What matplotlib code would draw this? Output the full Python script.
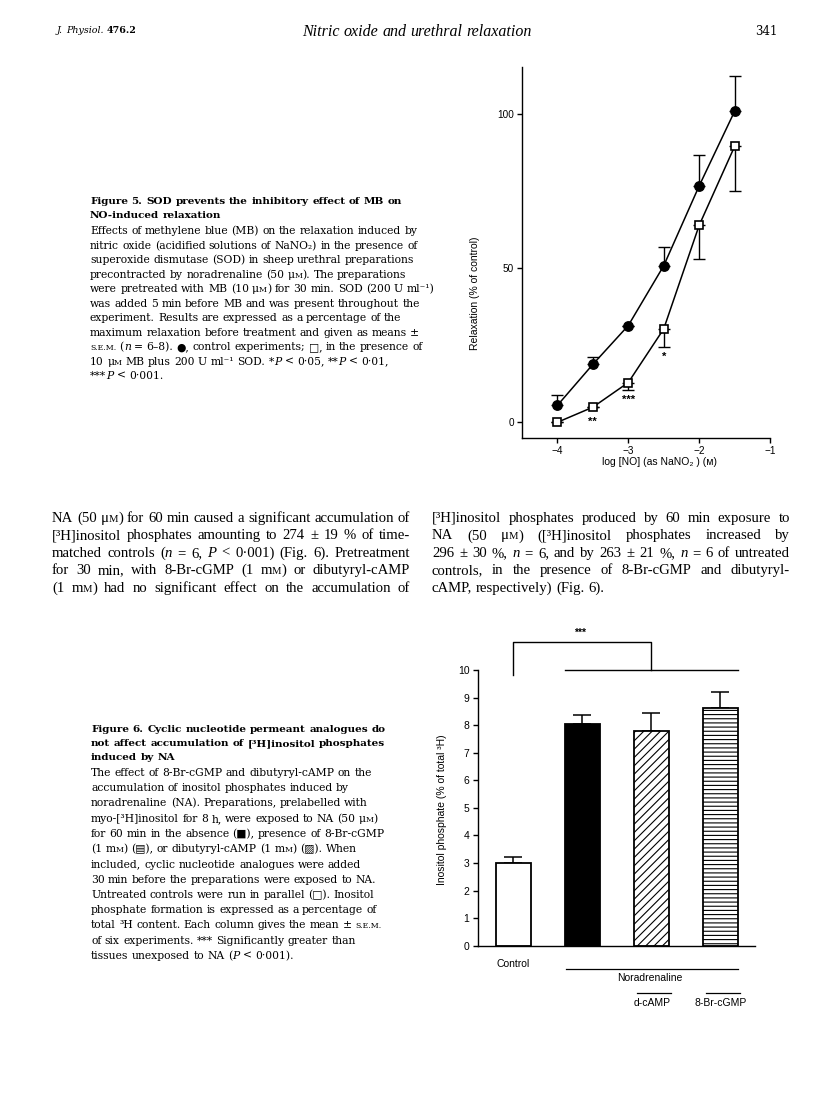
import matplotlib
matplotlib.use('Agg')
import matplotlib.pyplot as plt

# ---------------- data ----------------
# Figure 5: relaxation vs log [NO]
log_no = [-4.0, -3.5, -3.0, -2.5, -2.0, -1.5]
control_mean = [5.5, 18.8, 31.4, 50.8, 76.7, 100.9]
control_sem = [3.2, 2.3, 0.0, 6.0, 9.9, 11.5]
mb_sod_mean = [0.0, 4.9, 12.9, 30.3, 63.9, 89.5]
mb_sod_sem = [0.0, 0.0, 2.4, 5.9, 11.0, 14.3]
mb_sod_sig = ['', '**', '***', '*', '', '']
top_xticks = [-4, -3, -2, -1]
top_yticks = [0, 50, 100]

# Figure 6: inositol phosphate accumulation
bar_names = ['Control', 'Noradrenaline', 'Noradrenaline + d-cAMP', 'Noradrenaline + 8-Br-cGMP']
bar_means = [3.0, 8.05, 7.78, 8.62]
bar_sems = [0.2, 0.31, 0.65, 0.57]
bar_fills = ['white', 'black', 'white', 'white']
bar_hatches = ['', '', '////', '----']
bottom_yticks = list(range(0, 11))

# ---------------- text ----------------
caption5_bold = ["Figure 5. SOD prevents the inhibitory effect of MB on",
                 "NO-induced relaxation"]
caption5_body = [
    "Effects of methylene blue (MB) on the relaxation induced by",
    "nitric oxide (acidified solutions of NaNO₂) in the presence of",
    "superoxide dismutase (SOD) in sheep urethral preparations",
    "precontracted by noradrenaline (50 μ|^m|). The preparations",
    "were pretreated with MB (10 μ|^m|) for 30 min. SOD (200 U ml⁻¹)",
    "was added 5 min before MB and was present throughout the",
    "experiment. Results are expressed as a percentage of the",
    "maximum relaxation before treatment and given as means ±",
    "^s.e.m. (|~n| = 6–8). ●, control experiments; □, in the presence of",
    "10 μ|^m MB plus 200 U ml⁻¹ SOD. *|~P < 0·05, **|~P < 0·01,",
    "***|~P < 0·001.",
]
caption6_bold = ["Figure 6. Cyclic nucleotide permeant analogues do",
                 "not affect accumulation of [³H]inositol phosphates",
                 "induced by NA"]
caption6_body = [
    "The effect of 8-Br-cGMP and dibutyryl-cAMP on the",
    "accumulation of inositol phosphates induced by",
    "noradrenaline (NA). Preparations, prelabelled with",
    "myo-[³H]inositol for 8 h, were exposed to NA (50 μ|^m|)",
    "for 60 min in the absence (■), presence of 8-Br-cGMP",
    "(1 m|^m|) (▤), or dibutyryl-cAMP (1 m|^m|) (▨). When",
    "included, cyclic nucleotide analogues were added",
    "30 min before the preparations were exposed to NA.",
    "Untreated controls were run in parallel (□). Inositol",
    "phosphate formation is expressed as a percentage of",
    "total ³H content. Each column gives the mean ± ^s.e.m.",
    "of six experiments. *** Significantly greater than",
    "tissues unexposed to NA (|~P < 0·001).",
]
body_left = [
    "NA (50 μ|^m|) for 60 min caused a significant accumulation of",
    "[³H]inositol phosphates amounting to 274 ± 19 % of time-",
    "matched controls (|~n = 6, ~P < 0·001) (Fig. 6). Pretreatment",
    "for 30 min, with 8-Br-cGMP (1 m|^m|) or dibutyryl-cAMP",
    "(1 m|^m|) had no significant effect on the accumulation of",
]
body_right = [
    "[³H]inositol phosphates produced by 60 min exposure to",
    "NA (50 μ|^m|) ([³H]inositol phosphates increased by",
    "296 ± 30 %, ~n = 6, and by 263 ± 21 %, ~n = 6 of untreated",
    "controls, in the presence of 8-Br-cGMP and dibutyryl-",
    "cAMP, respectively) (Fig. 6).",
]

CAP_FONT = ['DejaVu Serif', 'DejaVu Sans']
BODY_FONT = ['Liberation Serif', 'DejaVu Sans']
SANS = ['Liberation Sans', 'DejaVu Sans']

W, H = 816, 1105
plt.rcParams['hatch.linewidth'] = 0.8
fig = plt.figure(figsize=(W / 100, H / 100), dpi=100)
fig.patch.set_facecolor('white')
renderer = fig.canvas.get_renderer()


def fx(x):
    return x / W


def fy(y):
    return 1 - y / H


def parse_word(word):
    segs = []
    for part in word.split('|'):
        if part == '':
            continue
        style, weight, scale = 'normal', None, 1.0
        text = part
        if part.startswith('~'):
            style, text = 'italic', part[1:]
        elif part.startswith('^'):
            scale, text = 0.72, part[1:].upper()
        elif part.startswith('!'):
            weight, text = 'bold', part[1:]
        segs.append((text, style, weight, scale))
    return segs


def make_text(x, y, s, size, weight, style, family):
    return fig.text(fx(x), fy(y), s, fontsize=size, family=family,
                    weight=weight, style=style, ha='left', va='baseline')


_cache = {}


def seg_width(s, size, weight, style, family):
    key = (s, round(size, 4), weight, style, tuple(family))
    if key not in _cache:
        t = make_text(0, 0, s, size, weight, style, family)
        _cache[key] = t.get_window_extent(renderer).width
        t.remove()
    return _cache[key]


def space_width(size, weight, family):
    return seg_width('a a', size, weight, 'normal', family) - seg_width('aa', size, weight, 'normal', family)


def build_runs(line):
    """Merge consecutive words/segments of the same style into runs.
    Each run: [text, style, weight, scale, space_before]"""
    runs = []
    for wi, word in enumerate(line.split(' ')):
        for si, (text, style, wgt, scale) in enumerate(parse_word(word)):
            boundary = (si == 0 and wi > 0)
            key = (style, wgt, scale)
            if runs and (runs[-1][1], runs[-1][2], runs[-1][3]) == key:
                runs[-1][0] += (' ' if boundary else '') + text
            else:
                runs.append([text, style, wgt, scale, boundary])
    return runs


def draw_ragged(line, x0, y, size, weight='normal', family=CAP_FONT):
    sp = space_width(size, weight, family)
    x = x0
    for text, style, wgt, scale, boundary in build_runs(line):
        if boundary:
            x += sp
        fs, fw = size * scale, (wgt or weight)
        words = text.split(' ')
        for i, w in enumerate(words):
            off = 0.0
            if i > 0:
                pre = ' '.join(words[:i + 1])
                off = seg_width(pre, fs, fw, style, family) - seg_width(w, fs, fw, style, family)
            make_text(x + off, y, w, fs, fw, style, family)
        x += seg_width(text, fs, fw, style, family)


def natural_width(line, size, weight, family):
    sp = space_width(size, weight, family)
    w = 0.0
    for text, style, wgt, scale, boundary in build_runs(line):
        w += (sp if boundary else 0.0) + seg_width(text, size * scale, wgt or weight, style, family)
    return w


def fit_size(line, target, weight, family):
    return 10.0 * target / natural_width(line, 10.0, weight, family)


def draw_justified(line, x0, y, size, width, family=BODY_FONT, weight='normal'):
    words = [parse_word(w) for w in line.split(' ')]
    meas = [[seg_width(t, size * sc, wg or weight, st, family) for t, st, wg, sc in segs]
            for segs in words]
    totals = [sum(m) for m in meas]
    sp = (width - sum(totals)) / max(len(words) - 1, 1)
    x = x0
    for segs, ws, tot in zip(words, meas, totals):
        xx = x
        for (text, style, wgt, scale), w in zip(segs, ws):
            make_text(xx, y, text, size * scale, wgt or weight, style, family)
            xx += w
        x += tot + sp


# ---- header ----
draw_ragged("~J. ~Physiol. !476.2", 57, 33, 6.8, family=CAP_FONT)
draw_ragged("~Nitric ~oxide ~and ~urethral ~relaxation", 302, 36, 11.5, family=BODY_FONT)
fig.text(fx(777), fy(35), "341", fontsize=8.5, family=CAP_FONT, ha='right', va='baseline')

# ---- caption 5 ----
cap_size = fit_size(caption5_body[0], 330, 'normal', CAP_FONT)
cap_bold = fit_size(caption5_bold[0], 313, 'bold', CAP_FONT)
y = 204
for ln in caption5_bold:
    draw_ragged(ln, 90, y, cap_bold, weight='bold')
    y += 14.0
y = 234.5
for ln in caption5_body:
    draw_ragged(ln, 90, y, cap_size)
    y += 14.45

# ---- body text (justified columns) ----
body_size = 10.6
for i, ln in enumerate(body_left):
    draw_justified(ln, 52, 522 + 17.4 * i, body_size, 358)
for i, ln in enumerate(body_right):
    if i < len(body_right) - 1:
        draw_justified(ln, 432, 522 + 17.4 * i, body_size, 358)
    else:
        draw_ragged(ln, 432, 522 + 17.4 * i, body_size, family=BODY_FONT)

# ---- caption 6 ----
y = 731.5
for ln in caption6_bold:
    draw_ragged(ln, 91, y, cap_bold, weight='bold')
    y += 14.5
y = 776
for ln in caption6_body:
    draw_ragged(ln, 91, y, cap_size)
    y += 15.25

# ---------------- Figure 5 chart ----------------
ax1 = fig.add_axes([fx(522), fy(438), 248 / W, 371 / H])
zeros = [0] * len(log_no)
ax1.errorbar(log_no, control_mean, yerr=[zeros, control_sem], fmt='none',
             ecolor='k', elinewidth=1.0, capsize=4.5, capthick=1.0, zorder=1)
ax1.errorbar(log_no, mb_sod_mean, yerr=[mb_sod_sem, zeros], fmt='none',
             ecolor='k', elinewidth=1.0, capsize=4.5, capthick=1.0, zorder=1)
ax1.plot(log_no, control_mean, '-', color='k', lw=1.1, zorder=2)
ax1.plot(log_no, mb_sod_mean, '-', color='k', lw=1.1, zorder=2)
ax1.plot(log_no, control_mean, 'o', ms=6.8, mfc='k', mec='k', zorder=3)
ax1.plot(log_no, mb_sod_mean, 's', ms=6.0, mfc='white', mec='k', mew=1.2, zorder=3)
for xv, m, s, lab in zip(log_no, mb_sod_mean, mb_sod_sem, mb_sod_sig):
    if lab:
        off = 5.0 + (4.5 if s == 0 else 0.0)
        ax1.annotate(lab, (xv, m - s), xytext=(0, -off * 0.72), textcoords='offset points',
                     ha='center', va='top', fontsize=8, family=SANS, fontweight='bold')
ax1.set_xlim(-4.5, -1)
ax1.set_ylim(-5.1, 115.3)
ax1.set_xticks(top_xticks)
ax1.set_yticks(top_yticks)
ax1.set_xticklabels(['−4', '−3', '−2', '−1'])
for sp_name in ['top', 'right']:
    ax1.spines[sp_name].set_visible(False)
for sp_name in ['left', 'bottom']:
    ax1.spines[sp_name].set_linewidth(1.0)
ax1.tick_params(direction='out', length=3.8, width=1.0, labelsize=7.2, pad=1.8)
for lbl in ax1.get_xticklabels() + ax1.get_yticklabels():
    lbl.set_family(SANS)
ax1.set_ylabel("Relaxation (% of control)", fontsize=7.5, family=SANS)
ax1.yaxis.set_label_coords(-0.169, (438 - 293) / 371)
ax1.set_xlabel("log [NO] (as NaNO₂ ) (ᴍ)", fontsize=7.5, family=SANS, va='center')
ax1.xaxis.set_label_coords((660 - 522) / 248, -(462 - 438) / 371)
ax1.patch.set_alpha(0)

# ---------------- Figure 6 chart ----------------
ax2 = fig.add_axes([fx(478.3), fy(945.7), 276.7 / W, 275.7 / H])
pos = list(range(len(bar_means)))
bw = 0.5
ax2.errorbar(pos, bar_means, yerr=[[0] * len(pos), bar_sems], fmt='none', ecolor='k',
             elinewidth=1.1, capsize=6.5, capthick=1.1, zorder=1)
bars = ax2.bar(pos, bar_means, width=bw, color=bar_fills, edgecolor='k', linewidth=1.3, zorder=2)
for b, h in zip(bars, bar_hatches):
    if h:
        b.set_hatch(h)
ax2.set_xlim(-0.507, 3.503)
ax2.set_ylim(0, 10)
ax2.set_yticks(bottom_yticks)
ax2.set_xticks([])
for sp_name in ['top', 'right']:
    ax2.spines[sp_name].set_visible(False)
for sp_name in ['left', 'bottom']:
    ax2.spines[sp_name].set_linewidth(1.0)
ax2.tick_params(direction='out', length=3.8, width=1.0, labelsize=7.5, pad=2.5)
for lbl in ax2.get_yticklabels():
    lbl.set_family(SANS)
ax2.set_ylabel("Inositol phosphate (% of total ³H)", fontsize=7.5, family=SANS)
ax2.yaxis.set_label_coords(-(478.3 - 447) / 276.7, (945.7 - 810) / 275.7)
ax2.patch.set_alpha(0)

# significance bracket
left_edge = pos[1] - bw / 2
right_edge = pos[3] + bw / 2
ax2.plot([pos[0], pos[0], pos[2], pos[2]], [9.82, 11.0, 11.0, 10.0], color='k', lw=1.0, clip_on=False)
ax2.plot([left_edge, right_edge], [10.0, 10.0], color='k', lw=1.0, clip_on=False)
ax2.text(0.97, 11.15, '***', ha='center', va='bottom', fontsize=7.5, family=SANS, fontweight='bold')

# group labels under the axis
ax2.text(pos[0], -0.67, 'Control', ha='center', va='center', fontsize=7.5, family=SANS)
ax2.plot([left_edge + 0.02, right_edge], [-0.845, -0.845], color='k', lw=0.9, clip_on=False)
ax2.text(1.98, -1.17, 'Noradrenaline', ha='center', va='center', fontsize=7.5, family=SANS)
for p, lab in zip(pos[2:], ['d-cAMP', '8-Br-cGMP']):
    ax2.plot([p - bw / 2 + 0.04, p + bw / 2 + 0.03], [-1.70, -1.70], color='k', lw=0.9, clip_on=False)
    ax2.text(p + 0.01, -2.08, lab, ha='center', va='center', fontsize=7.5, family=SANS)

fig.savefig('out.png', dpi=100, facecolor='white')
